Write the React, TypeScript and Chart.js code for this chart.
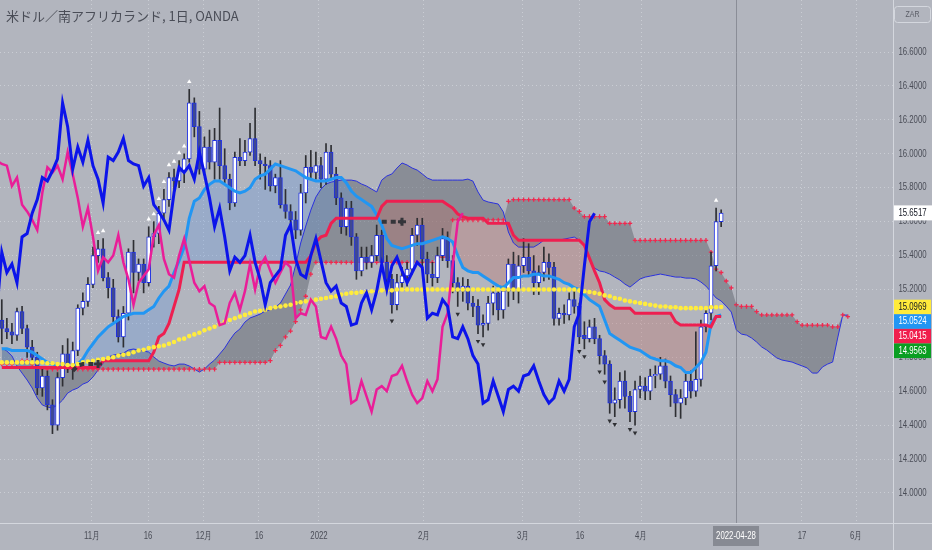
import React, { useEffect, useRef } from "react";
import { Chart, registerables } from "chart.js";

Chart.register(...registerables);

// daily bars, index 0 = first visible bar (early Oct 2021)
const opens = [
  15.02, 14.97, 14.95, 14.93, 15.07, 14.97, 14.86, 14.8, 14.62, 14.69,
  14.52, 14.4, 14.68, 14.82, 14.76, 14.84, 15.09, 15.13, 15.23, 15.4,
  15.44, 15.27, 15.21, 15.04, 14.92, 15.06, 15.42, 15.3, 15.35, 15.24,
  15.51, 15.53, 15.65, 15.73, 15.86, 15.84, 15.9, 15.97, 16.3, 16.16,
  15.91, 16.04, 15.95, 16.08, 15.93, 15.85, 15.71, 15.98, 15.96, 16.01,
  16.09, 15.96, 15.94, 15.93, 15.81, 15.86, 15.7, 15.66, 15.61, 15.55,
  15.77, 15.92, 15.89, 15.93, 15.85, 16.01, 15.88, 15.74, 15.57, 15.68,
  15.51, 15.31, 15.39, 15.36, 15.4, 15.52, 15.36, 15.26, 15.11, 15.24,
  15.28, 15.32, 15.52, 15.58, 15.38, 15.29, 15.27, 15.4, 15.5, 15.37,
  15.24, 15.19, 15.22, 15.12, 15.1, 14.99, 15.0, 15.12, 15.18, 15.08,
  15.19, 15.35, 15.2, 15.34, 15.39, 15.31, 15.24, 15.3, 15.36, 15.33,
  15.03, 15.06, 15.05, 15.14, 15.1, 14.93, 14.91, 14.98, 14.91, 14.81,
  14.76, 14.53, 14.55, 14.66, 14.57, 14.48, 14.61, 14.63, 14.6, 14.69,
  14.7, 14.75, 14.66, 14.58, 14.53, 14.56, 14.66, 14.6, 14.67, 14.98,
  15.06, 15.34, 15.6,
];
const highs = [
  15.14, 15.03, 15.0, 15.09, 15.1, 14.99, 14.9, 14.83, 14.73, 14.72,
  14.55, 14.71, 14.87, 14.91, 14.89, 15.11, 15.18, 15.27, 15.45, 15.49,
  15.5, 15.3, 15.26, 15.08, 15.1, 15.44, 15.49, 15.38, 15.38, 15.57,
  15.6, 15.69, 15.79, 15.89, 15.91, 15.96, 16.0, 16.38, 16.33, 16.25,
  16.1, 16.14, 16.15, 16.27, 16.03, 15.88, 16.01, 16.09, 16.08, 16.18,
  16.27, 16.0, 15.98, 15.96, 15.88, 15.96, 15.79, 15.7, 15.66, 15.82,
  15.99, 16.02, 16.01, 15.98, 16.06, 16.05, 15.92, 15.77, 15.72, 15.72,
  15.53, 15.45, 15.45, 15.46, 15.58, 15.55, 15.4, 15.29, 15.29, 15.33,
  15.36, 15.56, 15.62, 15.62, 15.42, 15.36, 15.45, 15.56, 15.54, 15.4,
  15.27, 15.27, 15.26, 15.16, 15.14, 15.05, 15.16, 15.22, 15.2, 15.22,
  15.38, 15.42, 15.4, 15.5, 15.47, 15.4, 15.34, 15.45, 15.41, 15.36,
  15.09, 15.11, 15.18, 15.21, 15.12, 15.01, 15.02, 15.03, 14.93, 14.84,
  14.78, 14.62, 14.71, 14.72, 14.6, 14.66, 14.69, 14.68, 14.73, 14.75,
  14.8, 14.79, 14.69, 14.61, 14.61, 14.7, 14.72, 14.95, 15.02, 15.1,
  15.42, 15.68, 15.67,
];
const lows = [
  14.88, 14.91, 14.88, 14.9, 14.94, 14.8, 14.76, 14.58, 14.57, 14.49,
  14.35, 14.37, 14.63, 14.71, 14.67, 14.81, 15.05, 15.1, 15.21, 15.36,
  15.25, 15.15, 15.01, 14.89, 14.86, 15.02, 15.18, 15.25, 15.18, 15.22,
  15.45, 15.47, 15.61, 15.69, 15.79, 15.8, 15.83, 15.95, 16.1, 15.88,
  15.89, 15.91, 15.85, 15.85, 15.83, 15.67, 15.69, 15.93, 15.93, 15.99,
  15.93, 15.85, 15.79, 15.78, 15.77, 15.68, 15.62, 15.56, 15.5, 15.52,
  15.71, 15.85, 15.85, 15.8, 15.82, 15.85, 15.7, 15.53, 15.52, 15.46,
  15.26, 15.28, 15.32, 15.33, 15.37, 15.31, 15.22, 15.06, 15.08, 15.2,
  15.22, 15.29, 15.46, 15.34, 15.24, 15.22, 15.24, 15.37, 15.33, 15.18,
  15.1, 15.13, 15.08, 15.04, 14.94, 14.92, 14.96, 15.05, 15.02, 15.03,
  15.1, 15.14, 15.12, 15.3, 15.28, 15.17, 15.17, 15.25, 15.26, 14.99,
  14.99, 15.0, 15.02, 15.06, 14.88, 14.85, 14.89, 14.88, 14.76, 14.7,
  14.47, 14.45, 14.5, 14.5, 14.42, 14.4, 14.56, 14.55, 14.55, 14.62,
  14.67, 14.62, 14.51, 14.45, 14.44, 14.52, 14.56, 14.57, 14.63, 14.95,
  15.02, 15.31, 15.57,
];
const closes = [
  14.97, 14.95, 14.93, 15.07, 14.97, 14.86, 14.8, 14.62, 14.69, 14.52,
  14.4, 14.68, 14.82, 14.76, 14.84, 15.09, 15.13, 15.23, 15.4, 15.44,
  15.27, 15.21, 15.04, 14.92, 15.06, 15.42, 15.3, 15.35, 15.24, 15.51,
  15.53, 15.65, 15.73, 15.86, 15.84, 15.9, 15.97, 16.3, 16.16, 15.91,
  16.04, 15.95, 16.08, 15.93, 15.85, 15.71, 15.98, 15.96, 16.01, 16.09,
  15.96, 15.94, 15.93, 15.81, 15.86, 15.7, 15.66, 15.61, 15.55, 15.77,
  15.92, 15.89, 15.93, 15.85, 16.01, 15.88, 15.74, 15.57, 15.68, 15.51,
  15.31, 15.39, 15.36, 15.4, 15.52, 15.36, 15.26, 15.11, 15.24, 15.28,
  15.32, 15.52, 15.58, 15.38, 15.29, 15.27, 15.4, 15.5, 15.37, 15.24,
  15.19, 15.22, 15.12, 15.1, 14.99, 15.0, 15.12, 15.18, 15.08, 15.19,
  15.35, 15.2, 15.34, 15.39, 15.31, 15.24, 15.3, 15.36, 15.33, 15.03,
  15.06, 15.05, 15.14, 15.1, 14.92, 14.91, 14.98, 14.91, 14.81, 14.76,
  14.53, 14.55, 14.66, 14.57, 14.48, 14.61, 14.63, 14.6, 14.69, 14.7,
  14.75, 14.66, 14.58, 14.53, 14.56, 14.66, 14.6, 14.67, 14.98, 15.06,
  15.34, 15.6, 15.65,
];

// light blue line
const convLine = [
  14.85, 14.85, 14.84, 14.84, 14.84, 14.84, 14.83, 14.81, 14.79, 14.77,
  14.76, 14.75, 14.74, 14.74, 14.74, 14.76, 14.79, 14.84, 14.88, 14.92,
  14.95, 14.98, 15.0, 15.02, 15.04, 15.05, 15.06, 15.06, 15.06, 15.08,
  15.1, 15.15, 15.19, 15.22, 15.3, 15.37, 15.45, 15.62, 15.72, 15.74,
  15.79, 15.82, 15.84, 15.84, 15.82, 15.8, 15.78, 15.77, 15.78, 15.8,
  15.85, 15.87, 15.88, 15.91, 15.94, 15.93, 15.92, 15.91, 15.9, 15.88,
  15.86, 15.85, 15.84, 15.84, 15.84, 15.85, 15.86, 15.86, 15.83, 15.78,
  15.75, 15.73, 15.71, 15.69, 15.64, 15.58, 15.5, 15.46, 15.45, 15.44,
  15.45, 15.46, 15.47, 15.47, 15.48, 15.49, 15.5, 15.51, 15.5, 15.48,
  15.4, 15.33, 15.31, 15.3, 15.3, 15.28, 15.26, 15.24, 15.22, 15.21,
  15.24, 15.27, 15.27, 15.28, 15.28, 15.29, 15.29, 15.28, 15.28, 15.27,
  15.26, 15.24, 15.23, 15.21, 15.2, 15.17, 15.14, 15.12, 15.1, 15.02,
  14.94, 14.92, 14.9, 14.88, 14.86, 14.85, 14.84, 14.82, 14.8, 14.79,
  14.78, 14.78, 14.77, 14.75, 14.74, 14.71, 14.71, 14.74, 14.77, 14.83,
  15.0, 15.04, 15.05,
];
// red stepped line
const baseLine = [
  14.74, 14.74, 14.74, 14.74, 14.74, 14.74, 14.74, 14.74, 14.74, 14.74,
  14.74, 14.74, 14.74, 14.74, 14.74, 14.74, 14.74, 14.74, 14.74, 14.74,
  14.78, 14.78, 14.78, 14.78, 14.78, 14.78, 14.78, 14.78, 14.78, 14.78,
  14.83, 14.92, 14.94, 15.0, 15.1, 15.2, 15.36, 15.36, 15.36, 15.36,
  15.36, 15.36, 15.36, 15.36, 15.36, 15.36, 15.36, 15.36, 15.36, 15.36,
  15.36, 15.36, 15.36, 15.36, 15.36, 15.36, 15.36, 15.36, 15.36, 15.36,
  15.36, 15.4, 15.48, 15.51, 15.52, 15.59, 15.62, 15.62, 15.62, 15.62,
  15.62, 15.62, 15.62, 15.62, 15.62, 15.69, 15.72, 15.72, 15.72, 15.72,
  15.72, 15.72, 15.72, 15.72, 15.72, 15.72, 15.72, 15.72, 15.7, 15.68,
  15.645, 15.63, 15.62, 15.62, 15.62, 15.62, 15.59, 15.59, 15.59, 15.59,
  15.59, 15.52, 15.49, 15.49, 15.49, 15.49, 15.49, 15.49, 15.49, 15.49,
  15.49, 15.49, 15.49, 15.49, 15.49, 15.46, 15.385, 15.31, 15.24, 15.14,
  15.11, 15.09, 15.09, 15.09, 15.09, 15.06, 15.06, 15.06, 15.06, 15.06,
  15.06, 15.06, 15.06, 15.01, 14.99, 14.99, 14.99, 14.99, 14.99, 14.99,
  14.98, 15.04, 15.04,
];
// yellow dotted average
const avgLine = [
  14.77, 14.77, 14.77, 14.77, 14.77, 14.77, 14.77, 14.77, 14.77, 14.765,
  14.765, 14.76, 14.76, 14.755, 14.755, 14.76, 14.77, 14.775, 14.78, 14.785,
  14.79, 14.795, 14.8, 14.81, 14.815, 14.82, 14.83, 14.84, 14.845, 14.855,
  14.86, 14.865, 14.87, 14.88, 14.89, 14.905, 14.91, 14.925, 14.935, 14.945,
  14.96, 14.97, 14.98, 14.995, 15.01, 15.02, 15.03, 15.04, 15.05, 15.06,
  15.07, 15.075, 15.08, 15.09, 15.095, 15.1, 15.105, 15.11, 15.12, 15.125,
  15.13, 15.135, 15.14, 15.145, 15.15, 15.155, 15.16, 15.17, 15.175, 15.18,
  15.18, 15.185, 15.185, 15.19, 15.19, 15.195, 15.195, 15.195, 15.2, 15.2,
  15.2, 15.2, 15.2, 15.2, 15.2, 15.2, 15.2, 15.2, 15.2, 15.2,
  15.2, 15.2, 15.2, 15.2, 15.2, 15.2, 15.2, 15.2, 15.2, 15.2,
  15.2, 15.2, 15.2, 15.2, 15.2, 15.2, 15.2, 15.2, 15.2, 15.2,
  15.2, 15.2, 15.2, 15.2, 15.195, 15.19, 15.185, 15.18, 15.175, 15.165,
  15.16, 15.15, 15.145, 15.135, 15.13, 15.125, 15.12, 15.115, 15.11, 15.105,
  15.1, 15.1, 15.095, 15.095, 15.09, 15.09, 15.09, 15.09, 15.09, 15.09,
  15.095, 15.095, 15.097,
];
// cloud edges, plotted 25 bars ahead
const leadA = [
  14.855, 14.837, 14.808, 14.749, 14.707, 14.666, 14.619, 14.56, 14.519, 14.507,
  14.501, 14.519, 14.548, 14.589, 14.607, 14.619, 14.642, 14.654, 14.684, 14.725,
  14.766, 14.802, 14.813, 14.819, 14.825, 14.843, 14.849, 14.843, 14.837, 14.831,
  14.802, 14.778, 14.766, 14.755, 14.749, 14.76, 14.76, 14.749, 14.731, 14.713,
  14.731, 14.76, 14.784, 14.819, 14.855, 14.902, 14.943, 14.967, 15.008, 15.032,
  15.043, 15.055, 15.073, 15.079, 15.096, 15.12, 15.173, 15.226, 15.344, 15.474,
  15.574, 15.668, 15.745, 15.792, 15.822, 15.833, 15.839, 15.845, 15.845, 15.845,
  15.839, 15.822, 15.81, 15.792, 15.775, 15.845, 15.869, 15.881, 15.916, 15.946,
  15.934, 15.916, 15.904, 15.881, 15.857, 15.845, 15.845, 15.845, 15.845, 15.845,
  15.845, 15.845, 15.851, 15.839, 15.775, 15.727, 15.716, 15.71, 15.704, 15.657,
  15.539, 15.474, 15.45, 15.45, 15.45, 15.45, 15.468, 15.491, 15.491, 15.491,
  15.491, 15.497, 15.503, 15.509, 15.491, 15.462, 15.374, 15.326, 15.309, 15.303,
  15.291, 15.273, 15.256, 15.232, 15.214, 15.238, 15.262, 15.273, 15.279, 15.285,
  15.291, 15.285, 15.279, 15.273, 15.273, 15.267, 15.267, 15.262, 15.244, 15.22,
  15.185, 15.15, 15.132, 15.102, 15.067, 14.961, 14.937, 14.931, 14.914, 14.89,
  14.861, 14.843, 14.819, 14.796, 14.784, 14.778, 14.772, 14.76, 14.749, 14.737,
  14.707, 14.707, 14.743, 14.76, 14.772, 14.914, 15.049, 15.049,
];
const leadB = [
  14.76, 14.76, 14.76, 14.77, 14.78, 14.78, 14.76, 14.73, 14.73, 14.73,
  14.73, 14.73, 14.73, 14.73, 14.73, 14.73, 14.73, 14.73, 14.73, 14.73,
  14.73, 14.73, 14.73, 14.73, 14.73, 14.73, 14.73, 14.73, 14.73, 14.73,
  14.73, 14.73, 14.73, 14.73, 14.73, 14.73, 14.73, 14.73, 14.73, 14.73,
  14.73, 14.73, 14.73, 14.77, 14.77, 14.77, 14.77, 14.77, 14.77, 14.77,
  14.77, 14.77, 14.77, 14.78, 14.84, 14.87, 14.92, 14.955, 15.01, 15.08,
  15.16, 15.29, 15.36, 15.36, 15.36, 15.36, 15.36, 15.36, 15.36, 15.36,
  15.36, 15.36, 15.36, 15.36, 15.36, 15.36, 15.36, 15.36, 15.36, 15.36,
  15.36, 15.36, 15.36, 15.36, 15.36, 15.36, 15.39, 15.39, 15.39, 15.61,
  15.61, 15.61, 15.61, 15.61, 15.61, 15.61, 15.61, 15.61, 15.61, 15.61,
  15.72, 15.73, 15.73, 15.73, 15.73, 15.73, 15.73, 15.73, 15.73, 15.73,
  15.73, 15.73, 15.73, 15.68, 15.66, 15.63, 15.63, 15.63, 15.63, 15.63,
  15.59, 15.59, 15.59, 15.59, 15.59, 15.49, 15.49, 15.49, 15.49, 15.49,
  15.49, 15.49, 15.49, 15.49, 15.49, 15.49, 15.49, 15.49, 15.49, 15.49,
  15.42, 15.32, 15.3, 15.25, 15.21, 15.11, 15.1, 15.1, 15.1, 15.07,
  15.05, 15.05, 15.05, 15.05, 15.05, 15.05, 15.05, 15.01, 14.99, 14.99,
  14.99, 14.99, 14.99, 14.99, 14.98, 14.98, 15.05, 15.04,
];

// lagging lines = closes shifted back
const LAG_SHORT = 25;
const LAG_LONG = 51;

const upMarks = [19, 20, 29, 30, 31, 32, 33, 34, 35, 36, 37, 141];
const downMarks = [77, 90, 94, 95, 114, 115, 118, 119, 120, 121, 124, 125];
const darkIdxA = [14, 15, 16, 17, 18, 19];
const darkValA = [14.72, 14.75, 14.76, 14.76, 14.76, 14.76];
const darkIdxB = [75, 76, 77, 78, 79];
const darkValB = [15.6, 15.6, 15.6, 15.6, 15.6];

const xTickPos = [17.8, 28.86, 39.91, 50.77, 62.61, 83.34, 102.88, 114.13, 126.18, 157.95, 168.62];
const xTickLabels = ["11月", "16", "12月", "16", "2022", "2月", "3月", "16", "4月", "17", "6月"];
const crossPos = 144.93;
const crossLabel = "2022-04-28";
const yTicks = [14.0, 14.2, 14.4, 14.6, 14.8, 15.0, 15.2, 15.4, 15.6, 15.8, 16.0, 16.2, 16.4, 16.6];
const lastPrice = 15.6517;
const sideBadges = [
  { value: 15.0969, bg: "#ffeb3b", fg: "#131722" },
  { value: 15.0524, bg: "#2196f3", fg: "#ffffff" },
  { value: 15.0415, bg: "#f01e4d", fg: "#ffffff" },
  { value: 14.9563, bg: "#0a9e22", fg: "#ffffff" },
];

const BG = "#b2b5be";
const AXIS_TEXT = "#4a4d57";
const GRID = "rgba(206,209,216,0.85)";

const pts = (arr: number[]) => arr.map((v, i) => ({ x: i, y: v }));

const condensed = (ctx: any, text: string, x: number, y: number, color: string, size = 10) => {
  ctx.save();
  ctx.translate(x, y);
  ctx.scale(0.78, 1);
  ctx.font = `${size}px "Liberation Sans", Arial, sans-serif`;
  ctx.fillStyle = color;
  ctx.textAlign = "center";
  ctx.textBaseline = "middle";
  ctx.fillText(text, 0, 0);
  ctx.restore();
};

const overlayPlugin = {
  id: "overlay",
  afterDatasetsDraw(chart: any) {
    const { ctx, chartArea: ca, scales } = chart;
    const cx = Math.round(scales.x.getPixelForValue(crossPos)) + 0.5;
    ctx.save();
    ctx.strokeStyle = "rgba(105,108,118,0.55)";
    ctx.lineWidth = 1;
    ctx.beginPath();
    ctx.moveTo(cx, ca.top);
    ctx.lineTo(cx, ca.bottom);
    ctx.stroke();
    ctx.restore();
  },
  afterDraw(chart: any) {
    const { ctx, chartArea: ca, scales } = chart;
    const xs = scales.x;
    const ys = scales.y;
    const axisMid = (ca.right + chart.width) / 2;
    ctx.save();
    ctx.strokeStyle = "#d4d7de";
    ctx.lineWidth = 1;
    ctx.beginPath();
    ctx.moveTo(ca.right + 0.5, 0);
    ctx.lineTo(ca.right + 0.5, chart.height);
    ctx.moveTo(0, ca.bottom + 0.5);
    ctx.lineTo(chart.width, ca.bottom + 0.5);
    ctx.stroke();

    yTicks.forEach((v) => condensed(ctx, v.toFixed(4), axisMid, ys.getPixelForValue(v), AXIS_TEXT));
    xTickPos.forEach((v, k) =>
      condensed(ctx, xTickLabels[k], xs.getPixelForValue(v), ca.bottom + 13, AXIS_TEXT)
    );

    const cx = xs.getPixelForValue(crossPos);
    ctx.fillStyle = "#878a93";
    ctx.fillRect(cx - 23, ca.bottom + 3, 46, 20);
    condensed(ctx, crossLabel, cx, ca.bottom + 13, "#ffffff");

    const ly = ys.getPixelForValue(lastPrice);
    ctx.fillStyle = "#ffffff";
    ctx.fillRect(ca.right + 1, ly - 7.5, 38, 15);
    condensed(ctx, lastPrice.toFixed(4), axisMid, ly, "#131722");

    const y0 = ys.getPixelForValue(sideBadges[0].value);
    sideBadges.forEach((b, k) => {
      const cy = y0 + k * 14.6;
      ctx.fillStyle = b.bg;
      ctx.fillRect(ca.right + 1, cy - 7.3, 37, 14.6);
      condensed(ctx, b.value.toFixed(4), axisMid, cy, b.fg);
    });

    ctx.strokeStyle = "#d4d7de";
    ctx.beginPath();
    ctx.roundRect(ca.right + 1.5, 6.5, 36, 16, 3);
    ctx.stroke();
    condensed(ctx, "ZAR", axisMid, 15, "#5a5d66", 9);
    ctx.restore();
  },
};

const App: React.FC = () => {
  const canvasRef = useRef<HTMLCanvasElement | null>(null);
  const chartRef = useRef<Chart | null>(null);

  useEffect(() => {
    document.body.style.margin = "0";
    if (!canvasRef.current) return;
    const ctx = canvasRef.current.getContext("2d");
    if (!ctx) return;
    if (chartRef.current) chartRef.current.destroy();

    const idx = closes.map((_, i) => i);
    const wickData = idx.map((i) => ({ x: i, y: [lows[i], highs[i]] }));
    const bodyData = idx.map((i) => ({ x: i, y: [opens[i], closes[i]] }));
    const bodyFill = idx.map((i) => (closes[i] >= opens[i] ? "#ffffff" : "#3f4991"));
    const lagShort = closes
      .map((c, i) => ({ x: i - LAG_SHORT, y: c }))
      .filter((p) => p.x >= -1);
    const lagLong = closes
      .map((c, i) => ({ x: i - LAG_LONG, y: c }))
      .filter((p) => p.x >= -1);
    const upPts = upMarks.map((i) => ({ x: i, y: highs[i] + 0.045 }));
    const downPts = downMarks.map((i) => ({ x: i, y: lows[i] - 0.045 }));
    const darkA = darkIdxA.map((i, k) => ({ x: i, y: darkValA[k] }));
    const darkB = darkIdxB.map((i, k) => ({ x: i, y: darkValB[k] }));

    chartRef.current = new Chart(ctx, {
      type: "line",
      data: {
        datasets: [
          {
            // 0: leading span B, red crosses
            type: "line",
            data: pts(leadB),
            borderColor: "rgba(0,0,0,0)",
            borderWidth: 0,
            pointStyle: "cross",
            pointRadius: 2.2,
            pointBorderColor: "#f0294f",
            pointBorderWidth: 1.3,
            fill: false,
            order: 11,
          },
          {
            // 1: leading span A, thin blue, grey cloud to span B
            type: "line",
            data: pts(leadA),
            borderColor: "#2a31dc",
            borderWidth: 1,
            pointRadius: 0,
            fill: { target: 0, above: "rgba(82,85,96,0.42)", below: "rgba(82,85,96,0.42)" },
            order: 12,
          },
          {
            // 2: red base line
            type: "line",
            data: pts(baseLine),
            borderColor: "#ee1f50",
            borderWidth: 3,
            pointRadius: 0,
            fill: false,
            order: 5,
          },
          {
            // 3: light blue line, filled against red
            type: "line",
            data: pts(convLine),
            borderColor: "#2196f3",
            borderWidth: 3,
            pointRadius: 0,
            fill: { target: 2, above: "rgba(95,150,225,0.30)", below: "rgba(192,105,95,0.32)" },
            order: 6,
          },
          {
            // 4: wicks
            type: "bar",
            data: wickData as any,
            backgroundColor: "#2e2f33",
            borderWidth: 0,
            barThickness: 1,
            grouped: false,
            order: 9,
          },
          {
            // 5: bodies
            type: "bar",
            data: bodyData as any,
            backgroundColor: bodyFill,
            borderColor: "#1f30e0",
            borderWidth: 1,
            borderSkipped: false,
            barThickness: 4,
            minBarLength: 1,
            grouped: false,
            order: 8,
          },
          {
            // 6: yellow dots
            type: "line",
            data: pts(avgLine),
            showLine: false,
            pointRadius: 2.3,
            pointBackgroundColor: "#ffec3d",
            pointBorderWidth: 0,
            order: 4,
          },
          {
            // 7: long lagging line, magenta
            type: "line",
            data: lagLong,
            borderColor: "#e91e98",
            borderWidth: 2.5,
            pointRadius: 0,
            fill: false,
            order: 3,
          },
          {
            // 8: short lagging line, blue
            type: "line",
            data: lagShort,
            borderColor: "#0c14ea",
            borderWidth: 3,
            pointRadius: 0,
            fill: false,
            order: 2,
          },
          {
            type: "line",
            data: darkA,
            borderColor: "#34353a",
            borderWidth: 4,
            borderDash: [5, 4],
            pointStyle: "cross",
            pointRadius: (c: any) => (c.dataIndex === darkA.length - 1 ? 4 : 0),
            pointBorderColor: "#34353a",
            pointBorderWidth: 3,
            fill: false,
            order: 1,
          },
          {
            type: "line",
            data: darkB,
            borderColor: "#34353a",
            borderWidth: 4,
            borderDash: [5, 4],
            pointStyle: "cross",
            pointRadius: (c: any) => (c.dataIndex === darkB.length - 1 ? 4 : 0),
            pointBorderColor: "#34353a",
            pointBorderWidth: 3,
            fill: false,
            order: 1,
          },
          {
            type: "line",
            data: upPts,
            showLine: false,
            pointStyle: "triangle",
            pointRadius: 2.6,
            pointBackgroundColor: "#ffffff",
            pointBorderWidth: 0,
            order: 0,
          },
          {
            type: "line",
            data: downPts,
            showLine: false,
            pointStyle: "triangle",
            pointRotation: 180,
            pointRadius: 2.6,
            pointBackgroundColor: "#2f3034",
            pointBorderWidth: 0,
            order: 0,
          },
        ] as any,
      },
      options: {
        responsive: false,
        animation: false,
        events: [],
        layout: { padding: 0, autoPadding: false },
        elements: { line: { tension: 0 } },
        plugins: {
          legend: { display: false },
          tooltip: { enabled: false },
          filler: { drawTime: "beforeDatasetsDraw", propagate: false },
        },
        scales: {
          x: {
            type: "linear",
            min: -0.355,
            max: 175.92,
            offset: false,
            afterBuildTicks: (s: any) => {
              s.ticks = xTickPos.map((v) => ({ value: v }));
            },
            afterFit: (s: any) => {
              s.height = 27;
            },
            ticks: { display: false },
            grid: { color: GRID, drawTicks: false, offset: false },
            border: { display: false, dash: [1, 3] },
          },
          y: {
            type: "linear",
            position: "right",
            min: 13.823,
            max: 16.907,
            afterBuildTicks: (s: any) => {
              s.ticks = yTicks.map((v) => ({ value: v }));
            },
            afterFit: (s: any) => {
              s.width = 39;
            },
            ticks: { display: false },
            grid: { color: GRID, drawTicks: false },
            border: { display: false, dash: [1, 3] },
          },
        },
      } as any,
      plugins: [overlayPlugin],
    });

    return () => {
      if (chartRef.current) {
        chartRef.current.destroy();
        chartRef.current = null;
      }
    };
  }, []);

  return (
    <div style={{ position: "relative", width: 932, height: 550, background: BG, overflow: "hidden" }}>
      <canvas ref={canvasRef} width={932} height={550} style={{ width: 932, height: 550, display: "block" }} />
      <div
        style={{
          position: "absolute",
          left: 6,
          top: 6,
          lineHeight: "20px",
          fontSize: 13,
          fontFamily: '"Noto Sans CJK JP", "Noto Sans", sans-serif',
          color: "#4a4d57",
          whiteSpace: "nowrap",
        }}
      >
        米ドル／南アフリカランド, 1日, OANDA
      </div>
    </div>
  );
};

export default App;
